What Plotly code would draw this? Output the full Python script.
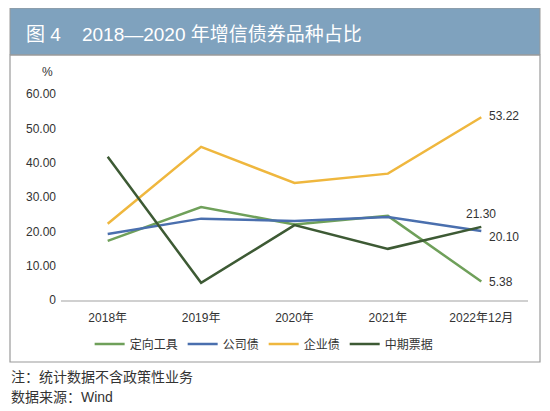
import plotly.graph_objects as go

# categories and series (%)
years = ["2018年", "2019年", "2020年", "2021年", "2022年12月"]
dingxiang = [17.2, 27.1, 22.0, 24.5, 5.38]
gongsi = [19.2, 23.7, 23.0, 24.2, 20.10]
qiye = [22.2, 44.6, 34.1, 36.8, 53.22]
zhongqi = [41.7, 5.0, 21.8, 14.9, 21.30]

y_ticks = [0, 10, 20, 30, 40, 50, 60]
y_labels = ["0", "10.00", "20.00", "30.00", "40.00", "50.00", "60.00"]

font_family = "Liberation Sans, Noto Sans CJK SC, sans-serif"

fig = go.Figure()

# name, values, colour, label anchor, label x/y shift
series = [
    ("定向工具", dingxiang, "#6fa05a", "left", 6, 0),
    ("公司债", gongsi, "#4a6fae", "left", 6, -6),
    ("企业债", qiye, "#efb73e", "left", 6, 1),
    ("中期票据", zhongqi, "#3d5a34", "center", 0, 13),
]

for name, vals, color, anchor, dx, dy in series:
    fig.add_trace(go.Scatter(
        x=years, y=vals, name=name, mode="lines",
        line=dict(color=color, width=2.5),
    ))
    # value label on the last point
    fig.add_annotation(x=years[-1], y=vals[-1], text="%.2f" % vals[-1],
                       showarrow=False, xanchor=anchor, yanchor="middle",
                       xshift=dx, yshift=dy, font=dict(size=12, color="#333333"))

# page body has an 8px margin, so the figure is drawn 8px smaller
fig.update_layout(
    width=542, height=403,
    margin=dict(l=53, r=22, t=86, b=111),
    paper_bgcolor="white", plot_bgcolor="white",
    font=dict(family=font_family, size=12, color="#333333"),
    showlegend=True,
    legend=dict(orientation="h", x=0.435, xanchor="center", y=-44/206, yanchor="middle",
                font=dict(size=12), traceorder="normal"),
)

fig.update_xaxes(range=[-0.5, 4.5], showgrid=False, showline=True, linecolor="#d0d0d0",
                 linewidth=1.5, ticks="", tickfont=dict(size=12), zeroline=False,
                 ticklabelstandoff=6)
fig.update_yaxes(range=[0, 60], showgrid=False, showline=False, zeroline=False,
                 tickvals=y_ticks, ticktext=y_labels, ticks="", tickfont=dict(size=12),
                 ticklabelstandoff=4)

# header band and frame
fig.add_shape(type="rect", xref="paper", yref="paper",
              x0=-51/467, x1=1 + 12/467, y0=1 + 39/206, y1=1 + 86/206,
              fillcolor="#7fa2be", line=dict(color="#9a9a9a", width=1), layer="below")
fig.add_shape(type="rect", xref="paper", yref="paper",
              x0=-51/467, x1=1 + 12/467, y0=-62/206, y1=1 + 39/206,
              fillcolor="rgba(0,0,0,0)", line=dict(color="#9a9a9a", width=1.2), layer="below")

fig.add_annotation(text="图 4\u00a0\u00a0\u00a0\u00a02018—2020 年增信债券品种占比",
                   xref="paper", yref="paper",
                   x=-37/467, y=1 + 60/206, xanchor="left", yanchor="middle", showarrow=False,
                   font=dict(size=19, color="white"))
fig.add_annotation(text="%", xref="paper", yref="paper", x=-14/467, y=1 + 22/206,
                   xanchor="center", yanchor="middle", showarrow=False, font=dict(size=12))
fig.add_annotation(text="注：统计数据不含政策性业务", xref="paper", yref="paper",
                   x=-52/467, y=-77/206, xanchor="left", yanchor="middle", showarrow=False,
                   font=dict(size=14))
fig.add_annotation(text="数据来源：Wind", xref="paper", yref="paper",
                   x=-52/467, y=-97/206, xanchor="left", yanchor="middle", showarrow=False,
                   font=dict(size=14))

fig.write_html("out.html")
